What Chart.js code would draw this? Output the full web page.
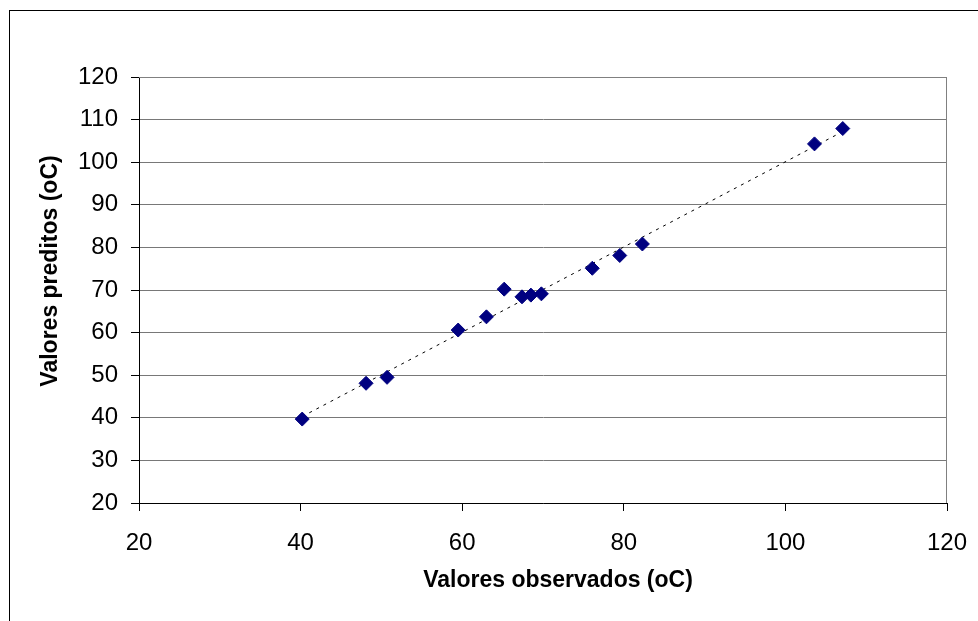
<!DOCTYPE html>
<html>
<head>
<meta charset="utf-8">
<script src="https://cdn.jsdelivr.net/npm/chart.js@4/dist/chart.umd.min.js"></script>
<style>
  html, body { margin: 0; padding: 0; background: #fff; }
  #wrap { width: 978px; height: 621px; }
</style>
</head>
<body>
<div id="wrap"><canvas id="chart" width="978" height="621"></canvas></div>
<script>
const observed  = [40.2, 48.1, 50.7, 59.5, 63.0, 65.2, 67.4, 68.5, 69.8, 76.1, 79.5, 82.3, 103.6, 107.1];
const predicted = [39.7, 48.1, 49.5, 60.6, 63.7, 70.2, 68.4, 68.8, 69.1, 75.1, 78.1, 80.8, 104.3, 107.9];

// dashed trend line ends
const trendX = [40.2, 107.1];
const trendY = [40.3, 107.2];

const xTicks = [20, 40, 60, 80, 100, 120];
const yTicks = [20, 30, 40, 50, 60, 70, 80, 90, 100, 110, 120];

const FONT = '"Liberation Sans", Arial, sans-serif';

// --- frame + axis titles, drawn by hand like the original sheet ---
const decorations = {
  id: 'decorations',
  afterDraw(chart) {
    const ctx = chart.ctx;
    const area = chart.chartArea;
    ctx.save();
    // outer chart border (right/bottom run off the picture)
    ctx.strokeStyle = '#000';
    ctx.lineWidth = 1;
    ctx.strokeRect(9.5, 10.5, 1000, 700);

    // grey frame on top and right of plot area
    ctx.strokeStyle = '#808080';
    ctx.beginPath();
    ctx.moveTo(area.left, area.top + 0.5);
    ctx.lineTo(area.right - 0.5, area.top + 0.5);
    ctx.lineTo(area.right - 0.5, area.bottom);
    ctx.stroke();

    ctx.fillStyle = '#000';
    ctx.font = 'bold 23px ' + FONT;
    ctx.textAlign = 'center';
    ctx.textBaseline = 'middle';
    ctx.fillText('Valores observados (oC)', 558, 581);

    ctx.translate(51, 271);
    ctx.rotate(-Math.PI / 2);
    ctx.fillText('Valores preditos (oC)', 0, 0);
    ctx.restore();
  }
};

new Chart(document.getElementById('chart'), {
  type: 'scatter',
  data: {
    datasets: [
      {
        label: 'Valores',
        data: observed.map((x, i) => ({ x: x, y: predicted[i] })),
        pointStyle: 'rectRot',
        pointRadius: 7,
        pointHoverRadius: 7,
        backgroundColor: '#000080',
        borderColor: '#000080',
        borderWidth: 1
      },
      {
        label: 'Tendência',
        data: trendX.map((x, i) => ({ x: x, y: trendY[i] })),
        showLine: true,
        pointRadius: 0,
        borderColor: '#000',
        borderWidth: 1,
        borderDash: [3, 5],
        fill: false
      }
    ]
  },
  options: {
    responsive: false,
    animation: false,
    layout: { padding: { left: 0, top: 77, right: 31, bottom: 0 } },
    plugins: {
      legend: { display: false },
      tooltip: { enabled: false }
    },
    scales: {
      x: {
        type: 'linear',
        min: 20,
        max: 120,
        afterBuildTicks: s => { s.ticks = xTicks.map(v => ({ value: v })); },
        afterFit: s => {
          s.height = 621 - 503;
          s.paddingLeft = 0;
          s.paddingRight = 0;
        },
        grid: {
          display: true,
          drawOnChartArea: false,
          drawTicks: true,
          tickLength: 8,
          color: '#000'
        },
        border: { display: true, color: '#000', width: 1 },
        ticks: {
          color: '#000',
          padding: 18,
          maxRotation: 0,
          font: { family: FONT, size: 24 }
        }
      },
      y: {
        type: 'linear',
        min: 20,
        max: 120,
        afterBuildTicks: s => { s.ticks = yTicks.map(v => ({ value: v })); },
        afterFit: s => {
          s.width = 139;
          s.paddingTop = 0;
          s.paddingBottom = 0;
        },
        grid: {
          display: true,
          drawOnChartArea: true,
          drawTicks: true,
          tickLength: 8,
          color: '#787878',
          tickColor: '#000'
        },
        border: { display: true, color: '#000', width: 1 },
        ticks: {
          color: '#000',
          padding: 13,
          font: { family: FONT, size: 24 }
        }
      }
    }
  },
  plugins: [decorations]
});
</script>
</body>
</html>
